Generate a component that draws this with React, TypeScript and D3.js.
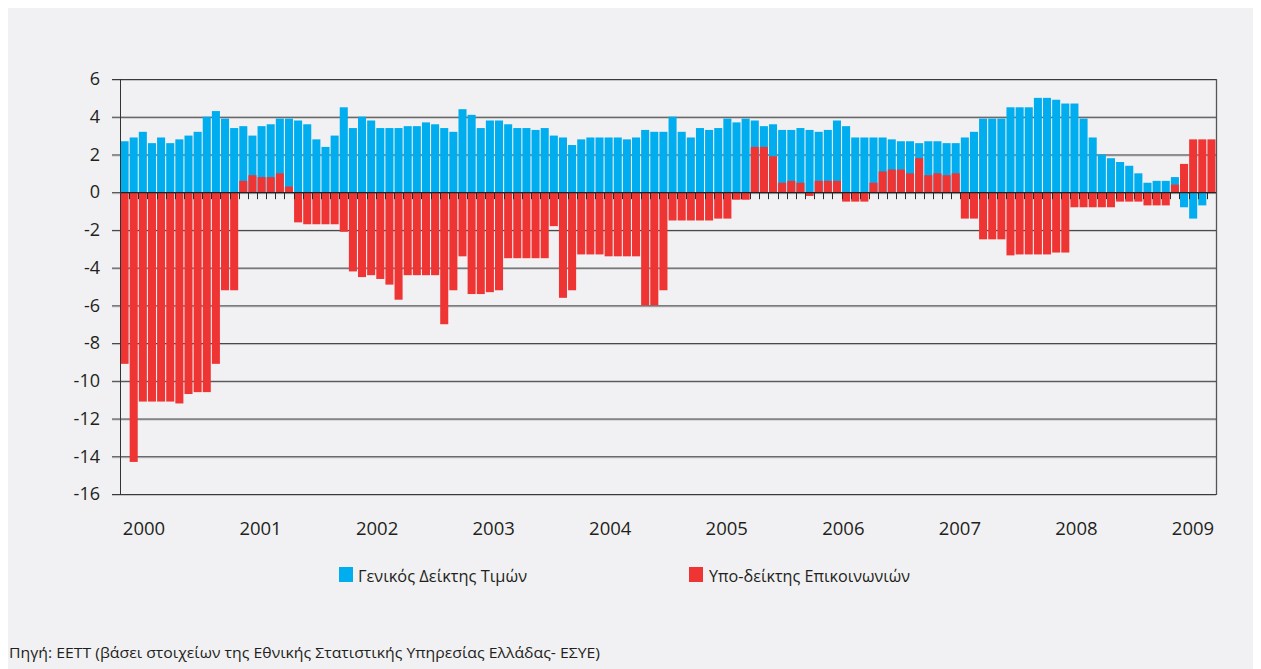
import React from "react";
import * as d3 from "d3";

// years on the category axis (monthly data, Jan 2000 onward)
const years = ["2000", "2001", "2002", "2003", "2004", "2005", "2006", "2007", "2008", "2009"];

// Γενικός Δείκτης Τιμών (annual change %, monthly)
const general = [
  2.7, 2.9, 3.2, 2.6, 2.9, 2.6, 2.8, 3.0, 3.2, 4.0, 4.3, 3.9,
  3.4, 3.5, 3.0, 3.5, 3.6, 3.9, 3.9, 3.8, 3.6, 2.8, 2.4, 3.0,
  4.5, 3.4, 4.0, 3.8, 3.4, 3.4, 3.4, 3.5, 3.5, 3.7, 3.6, 3.4,
  3.2, 4.4, 4.1, 3.4, 3.8, 3.8, 3.6, 3.4, 3.4, 3.3, 3.4, 3.0,
  2.9, 2.5, 2.8, 2.9, 2.9, 2.9, 2.9, 2.8, 2.9, 3.3, 3.2, 3.2,
  4.0, 3.2, 2.9, 3.4, 3.3, 3.4, 3.9, 3.7, 3.9, 3.8, 3.5, 3.6,
  3.3, 3.3, 3.4, 3.3, 3.2, 3.3, 3.8, 3.5, 2.9, 2.9, 2.9, 2.9,
  2.8, 2.7, 2.7, 2.6, 2.7, 2.7, 2.6, 2.6, 2.9, 3.2, 3.9, 3.9,
  3.9, 4.5, 4.5, 4.5, 5.0, 5.0, 4.9, 4.7, 4.7, 3.9, 2.9, 2.0,
  1.8, 1.6, 1.4, 1.0, 0.5, 0.6, 0.6, 0.8, -0.8, -1.4, -0.7, 0,
];

// Υπο-δείκτης Επικοινωνιών
const comms = [
  -9.1, -14.3, -11.1, -11.1, -11.1, -11.1, -11.2, -10.7, -10.6, -10.6, -9.1, -5.2,
  -5.2, 0.6, 0.9, 0.8, 0.8, 1.0, 0.3, -1.6, -1.7, -1.7, -1.7, -1.7,
  -2.1, -4.2, -4.5, -4.4, -4.6, -4.9, -5.7, -4.4, -4.4, -4.4, -4.4, -7.0,
  -5.2, -3.4, -5.4, -5.4, -5.3, -5.2, -3.5, -3.5, -3.5, -3.5, -3.5, -1.8,
  -5.6, -5.2, -3.3, -3.3, -3.3, -3.4, -3.4, -3.4, -3.4, -6.0, -6.0, -5.2,
  -1.5, -1.5, -1.5, -1.5, -1.5, -1.4, -1.4, -0.4, -0.4, 2.4, 2.4, 1.9,
  0.5, 0.6, 0.5, -0.2, 0.6, 0.6, 0.6, -0.5, -0.5, -0.5, 0.5, 1.1,
  1.2, 1.2, 1.0, 1.8, 0.9, 1.0, 0.9, 1.0, -1.4, -1.4, -2.5, -2.5,
  -2.5, -3.35, -3.3, -3.3, -3.3, -3.3, -3.2, -3.2, -0.8, -0.8, -0.8, -0.8,
  -0.8, -0.5, -0.5, -0.5, -0.7, -0.7, -0.7, 0.4, 1.5, 2.8, 2.8, 2.8,
];

const seriesNames = ["Γενικός Δείκτης Τιμών", "Υπο-δείκτης Επικοινωνιών"];
const source = "Πηγή: ΕΕΤΤ (βάσει στοιχείων της Εθνικής Στατιστικής Υπηρεσίας Ελλάδας- ΕΣΥΕ)";

const BLUE = "#00adee";
const RED = "#ef3434";
const BG = "#f1f1f3";
const FONT = "'Open Sans', 'DejaVu Sans', sans-serif";

const W = 1245;
const H = 661;
const left = 112;
const right = 1208;
const top = 71;
const bottom = 486;

const App = () => {
  const months = general.map((_, i) => `${years[Math.floor(i / 12)] ?? "2010"}-${(i % 12) + 1}`);

  const x = d3.scaleBand().domain(months).range([left, right]).paddingInner(0.12).paddingOuter(0.06);
  const y = d3.scaleLinear().domain([-16, 6]).range([bottom, top]);
  const xYear = d3.scalePoint().domain(years).range([136, 1185]);
  const yTicks = y.ticks(11);
  const step = x.step();
  const boundaries = d3.range(1, months.length).map((i) => left + x.paddingOuter() * step + i * step - (x.paddingInner() * step) / 2);

  const bar = (v: number, i: number, color: string) => (
    <rect
      key={color + i}
      x={x(months[i])}
      width={x.bandwidth()}
      y={y(Math.max(0, v))}
      height={Math.abs(y(v) - y(0))}
      fill={color}
    />
  );

  return (
    <svg width={W} height={H} style={{ display: "block", background: BG, fontFamily: FONT }}>
      {/* grid */}
      {yTicks.map((t) => (
        <g key={t}>
          <line x1={left - 8} x2={right} y1={y(t) + 1.5} y2={y(t) + 1.5} stroke="#c4c4c6" />
          <line x1={left - 8} x2={right} y1={y(t) + 0.5} y2={y(t) + 0.5} stroke="#3a3a3a" />
          <text x={92} y={y(t)} dy="0.35em" textAnchor="end" fontSize={18} fill="#231f20">
            {t}
          </text>
        </g>
      ))}

      {general.map((v, i) => bar(v, i, BLUE))}
      {comms.map((v, i) => bar(v, i, RED))}

      {/* zero axis with ticks */}
      <line x1={left} x2={right} y1={y(0) + 0.5} y2={y(0) + 0.5} stroke="#222" strokeWidth={1.2} />
      {boundaries.map((bx, i) => (
        <line key={i} x1={Math.round(bx) + 0.5} x2={Math.round(bx) + 0.5} y1={y(0)} y2={y(0) + 7} stroke="#2a2a2a" />
      ))}

      <line x1={left + 0.5} x2={left + 0.5} y1={top} y2={bottom + 1} stroke="#333" />
      <line x1={right + 0.5} x2={right + 0.5} y1={top} y2={bottom + 1} stroke="#555" strokeWidth={1.3} />

      {years.map((yr) => (
        <text key={yr} x={xYear(yr)} y={527} textAnchor="middle" fontSize={18.5} fill="#231f20">
          {yr}
        </text>
      ))}

      {/* legend */}
      <rect x={331} y={559} width={14} height={15} fill={BLUE} />
      <text x={350} y={574} fontSize={16} textLength={169} lengthAdjust="spacingAndGlyphs" fill="#231f20">
        {seriesNames[0]}
      </text>
      <rect x={681} y={559} width={14} height={15} fill={RED} />
      <text x={701} y={574} fontSize={16} textLength={201} lengthAdjust="spacingAndGlyphs" fill="#231f20">
        {seriesNames[1]}
      </text>

      <text x={1} y={650} fontSize={14.5} textLength={591} lengthAdjust="spacingAndGlyphs" fill="#231f20">
        {source}
      </text>
    </svg>
  );
};

export default App;
